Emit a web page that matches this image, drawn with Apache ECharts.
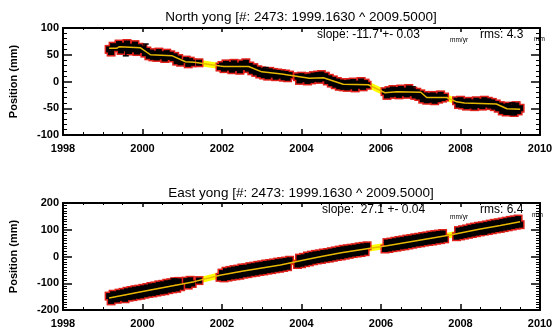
<!DOCTYPE html>
<html>
<head>
<meta charset="utf-8">
<script src="https://cdn.jsdelivr.net/npm/echarts@6/dist/echarts.min.js"></script>
<style>html,body{margin:0;padding:0;background:#fff}#c{width:558px;height:332px}</style>
</head>
<body>
<div id="c"></div>
<script>
// Observation epochs (decimal years), shared by both components
const obsT = [
1999.16,1999.21,1999.26,1999.36,1999.41,1999.46,1999.51,1999.56,1999.61,1999.66,1999.71,1999.76,1999.81,1999.86,1999.91,1999.96,
2000.01,2000.06,2000.11,2000.16,2000.21,2000.26,2000.31,2000.36,2000.41,2000.46,2000.51,2000.56,2000.61,2000.66,2000.71,2000.76,2000.81,2000.86,2000.91,2000.96,
2001.10,2001.15,2001.20,2001.25,2001.42,2001.95,2002.00,
2002.05,2002.10,2002.15,2002.20,2002.25,2002.30,2002.35,2002.40,2002.45,2002.50,2002.55,2002.60,2002.65,2002.70,2002.75,2002.80,2002.85,2002.90,2002.95,
2003.00,2003.05,2003.10,2003.15,2003.20,2003.25,2003.30,2003.35,2003.40,2003.45,2003.50,2003.55,2003.60,2003.65,2003.70,
2003.90,2003.95,2004.00,2004.05,2004.10,2004.15,2004.20,2004.25,2004.30,2004.35,2004.40,2004.45,2004.50,2004.55,2004.60,2004.65,2004.70,2004.75,2004.80,2004.85,2004.90,2004.95,
2005.00,2005.05,2005.10,2005.15,2005.20,2005.25,2005.30,2005.35,2005.40,2005.45,2005.50,2005.55,2005.60,2005.65,
2006.10,2006.15,2006.20,2006.25,2006.30,2006.35,2006.40,2006.45,2006.50,2006.55,2006.60,2006.65,2006.70,2006.75,2006.80,2006.85,2006.90,2006.95,
2007.00,2007.05,2007.10,2007.15,2007.20,2007.25,2007.30,2007.35,2007.40,2007.45,2007.50,2007.55,2007.60,
2007.90,2007.95,2008.00,2008.05,2008.10,2008.15,2008.20,2008.25,2008.30,2008.35,2008.40,2008.45,2008.50,2008.55,2008.60,2008.65,2008.70,2008.75,2008.80,2008.85,2008.90,2008.95,
2009.00,2009.05,2009.10,2009.15,2009.20,2009.25,2009.30,2009.35,2009.40,2009.45,2009.50
];
// North component positions (mm)
const northV = [
60,55,66,63,70,58,67,62,71,57,65,60,69,56,64,59,
62,53,57,48,54,46,52,45,55,47,51,43,53,46,50,44,47,38,43,36,
40,33,38,35,35,27,30,
24,33,26,31,22,34,25,30,21,33,27,35,24,29,20,26,17,22,14,
20,12,18,10,19,13,17,9,16,11,15,8,14,7,12,
9,2,10,4,8,1,9,3,11,5,12,4,13,6,10,1,6,-3,3,-6,0,-9,
-2,-10,-3,-11,-2,-9,-1,-12,-4,-8,0,-10,-3,-7,
-19,-26,-17,-24,-15,-23,-16,-25,-14,-22,-17,-24,-13,-21,-18,-26,-20,-28,
-23,-33,-26,-35,-27,-34,-26,-36,-28,-33,-25,-31,-29,
-36,-43,-35,-44,-38,-46,-37,-45,-39,-47,-36,-44,-38,-46,-35,-43,-37,-45,-39,-47,-42,-50,
-45,-55,-47,-57,-46,-56,-49,-58,-45,-55,-50
];
// East component positions (mm)
const eastV = [
-148,-166,-141,-160,-137,-155,-134,-158,-130,-152,-127,-150,-124,-147,-122,-145,
-119,-141,-116,-138,-112,-136,-110,-133,-106,-130,-104,-128,-100,-124,-98,-121,-94,-119,-93,-113,
-92,-107,-89,-101,-90,-78,-62,
-80,-55,-77,-52,-74,-49,-72,-47,-70,-43,-66,-42,-64,-38,-61,-36,-59,-33,-56,
-31,-54,-28,-51,-26,-49,-24,-46,-21,-44,-19,-41,-17,-38,-14,
-30,-6,-27,-3,-23,2,-20,5,-16,8,-13,10,-11,13,-8,15,-6,18,-3,21,0,24,
2,27,5,29,8,31,11,33,13,36,15,38,18,40,
28,52,30,54,33,57,35,60,38,62,40,65,43,67,46,70,49,72,
51,75,54,77,56,80,58,82,61,84,63,86,66,
74,97,77,100,80,103,83,107,86,110,89,113,92,115,95,118,97,121,100,124,103,126,
105,129,108,132,111,135,114,137,117,140,119
];
// Fitted model curves
const northModelT = [1999.16,1999.35,1999.42,1999.95,2000.2,2000.75,2001.08,2001.3,2001.95,2002.05,2002.67,2003.0,2003.5,2004.2,2004.55,2005.05,2005.68,2006.1,2006.4,2007.0,2007.15,2007.65,2007.9,2008.1,2008.9,2009.17,2009.5];
const northModelV = [62,62,65,63,50,48,37,36,29,28,28,18,14,6,7,-5,-6,-21,-19,-20,-30,-30,-38,-40,-42,-51,-52];
const eastModelT = [1999.16,2000.0,2001.0,2001.3,2001.95,2002.5,2003.47,2004.0,2004.5,2005.0,2005.73,2006.15,2007.0,2007.74,2008.5,2009.0,2009.5];
const eastModelV = [-155,-131,-103,-94,-70,-55,-32,-15,0,14,31,40,62,80,103,116,130];
// A few visible error bars: [time, low, high]
const northErr = [[1999.58,48,66],[2000.08,56,70],[2003.1,8,26],[2006.8,-26,-10],[2009.3,-62,-40]];
const eastErr = [[2000.78,-125,-84],[1999.3,-168,-140],[2003.3,-50,-18],[2008.6,84,112]];
// Axis settings
const yearTicks = [1998, 2000, 2002, 2004, 2006, 2008, 2010];
const northRange = [-100, 100];
const eastRange = [-200, 200];
const titles = ['North yong [#: 2473: 1999.1630 ^ 2009.5000]', 'East yong [#: 2473: 1999.1630 ^ 2009.5000]'];
const slopes = ['slope: -11.7 +- 0.03', 'slope:  27.1 +- 0.04'];
const rmsTxt = ['rms: 4.3', 'rms: 6.4'];

const FONT = '"Liberation Sans", Arial, sans-serif';
const chart = echarts.init(document.getElementById('c'), null, {renderer: 'canvas'});
const grids = [{left: 62, top: 28, width: 478, height: 107}, {left: 62, top: 203, width: 478, height: 107}];

function xAxes(gi) {
  const base = {
    type: 'value', gridIndex: gi, min: yearTicks[0], max: yearTicks[yearTicks.length - 1], interval: 2,
    axisLine: {show: true, onZero: false, lineStyle: {color: '#000', width: 2}},
    axisTick: {show: true, inside: true, length: 6, lineStyle: {color: '#000', width: 1.5}},
    minorTick: {show: true, splitNumber: 4, length: 3, lineStyle: {color: '#000', width: 1}},
    splitLine: {show: false}
  };
  return [
    Object.assign({}, base, {position: 'bottom', axisLabel: {show: true, color: '#000', fontFamily: FONT, fontWeight: 'bold', fontSize: 11, margin: 8, formatter: v => String(v)}}),
    Object.assign({}, base, {position: 'top', axisLabel: {show: false},
      axisTick: {show: true, inside: true, length: 4, lineStyle: {color: '#000', width: 1.5}},
      minorTick: {show: true, splitNumber: 4, length: 2, lineStyle: {color: '#000', width: 1}}})
  ];
}
function yAxes(gi, range, interval, minorSplit) {
  const base = {
    type: 'value', gridIndex: gi, min: range[0], max: range[1], interval: interval,
    axisLine: {show: true, onZero: false, lineStyle: {color: '#000', width: 2}},
    axisTick: {show: true, inside: true, length: 9, lineStyle: {color: '#000', width: 1.5}},
    minorTick: {show: true, splitNumber: minorSplit, length: 4, lineStyle: {color: '#000', width: 1}},
    splitLine: {show: false}
  };
  return [
    Object.assign({}, base, {position: 'left', name: 'Position (mm)', nameLocation: 'middle', nameGap: 44, nameRotate: 90,
      nameTextStyle: {color: '#000', fontFamily: FONT, fontWeight: 'bold', fontSize: 11},
      axisLabel: {show: true, color: '#000', fontFamily: FONT, fontWeight: 'bold', fontSize: 11, margin: 4, formatter: v => String(v)}}),
    Object.assign({}, base, {position: 'right', axisLabel: {show: false}})
  ];
}

function pairs(t, v) { return t.map((x, i) => [x, v[i]]); }

function seriesFor(ai, obs, modelT, modelV, errs) {
  const data = pairs(obsT, obs);
  const model = pairs(modelT, modelV);
  return [
    {type: 'line', xAxisIndex: ai, yAxisIndex: ai, data: model, symbol: 'none', z: 1,
     lineStyle: {color: '#ffff00', width: 6}, silent: true, animation: false},
    {type: 'scatter', xAxisIndex: ai, yAxisIndex: ai, data: data, symbol: 'rect', symbolSize: 9, z: 2,
     itemStyle: {color: '#e0201a', opacity: 1}, animation: false},
    {type: 'custom', xAxisIndex: ai, yAxisIndex: ai, data: errs, z: 3, animation: false,
     renderItem: (params, api) => {
       const x = api.value(0), lo = api.value(1), hi = api.value(2);
       const p1 = api.coord([x, lo]), p2 = api.coord([x, hi]);
       const st = {stroke: '#000', lineWidth: 1.5};
       return {type: 'group', children: [
         {type: 'line', shape: {x1: p1[0], y1: p1[1], x2: p2[0], y2: p2[1]}, style: st},
         {type: 'line', shape: {x1: p1[0] - 3, y1: p1[1], x2: p1[0] + 3, y2: p1[1]}, style: st},
         {type: 'line', shape: {x1: p2[0] - 3, y1: p2[1], x2: p2[0] + 3, y2: p2[1]}, style: st}
       ]};
     }},
    {type: 'scatter', xAxisIndex: ai, yAxisIndex: ai, data: data, symbol: 'rect', symbolSize: 6, z: 4,
     itemStyle: {color: '#000', opacity: 1}, animation: false},
    {type: 'line', xAxisIndex: ai, yAxisIndex: ai, data: model, symbol: 'none', z: 5,
     lineStyle: {color: '#e8b800', width: 1.5}, silent: true, animation: false}
  ];
}

const xs = [].concat(xAxes(0), xAxes(1));
const ys = [].concat(yAxes(0, northRange, 50, 5), yAxes(1, eastRange, 100, 10));

const series = [].concat(
  seriesFor(0, northV, northModelT, northModelV, northErr),
  seriesFor(2, eastV, eastModelT, eastModelV, eastErr)
);

function txt(x, y, text, size, weight, align) {
  return {type: 'text', x: x, y: y, z: 100, style: {text: text, fill: '#000', font: (weight || 'normal') + ' ' + size + 'px ' + FONT, textAlign: align || 'left', textVerticalAlign: 'middle'}};
}

const graphic = [
  txt(301, 17, titles[0], 13.5, 'normal', 'center'),
  txt(301, 193, titles[1], 13.5, 'normal', 'center'),
  txt(317, 35, slopes[0], 12, 'normal'),
  txt(450, 40, 'mm/yr', 6.5, 'normal'),
  txt(480, 35, rmsTxt[0], 12, 'normal'),
  txt(534, 39, 'mm', 6.5, 'normal'),
  txt(322, 210, slopes[1], 12, 'normal'),
  txt(450, 217, 'mm/yr', 6.5, 'normal'),
  txt(480, 210, rmsTxt[1], 12, 'normal'),
  txt(532, 215, 'mm', 6.5, 'normal')
];

chart.setOption({
  backgroundColor: '#fff',
  animation: false,
  grid: grids,
  xAxis: xs,
  yAxis: ys,
  series: series,
  graphic: graphic
});
</script>
</body>
</html>
